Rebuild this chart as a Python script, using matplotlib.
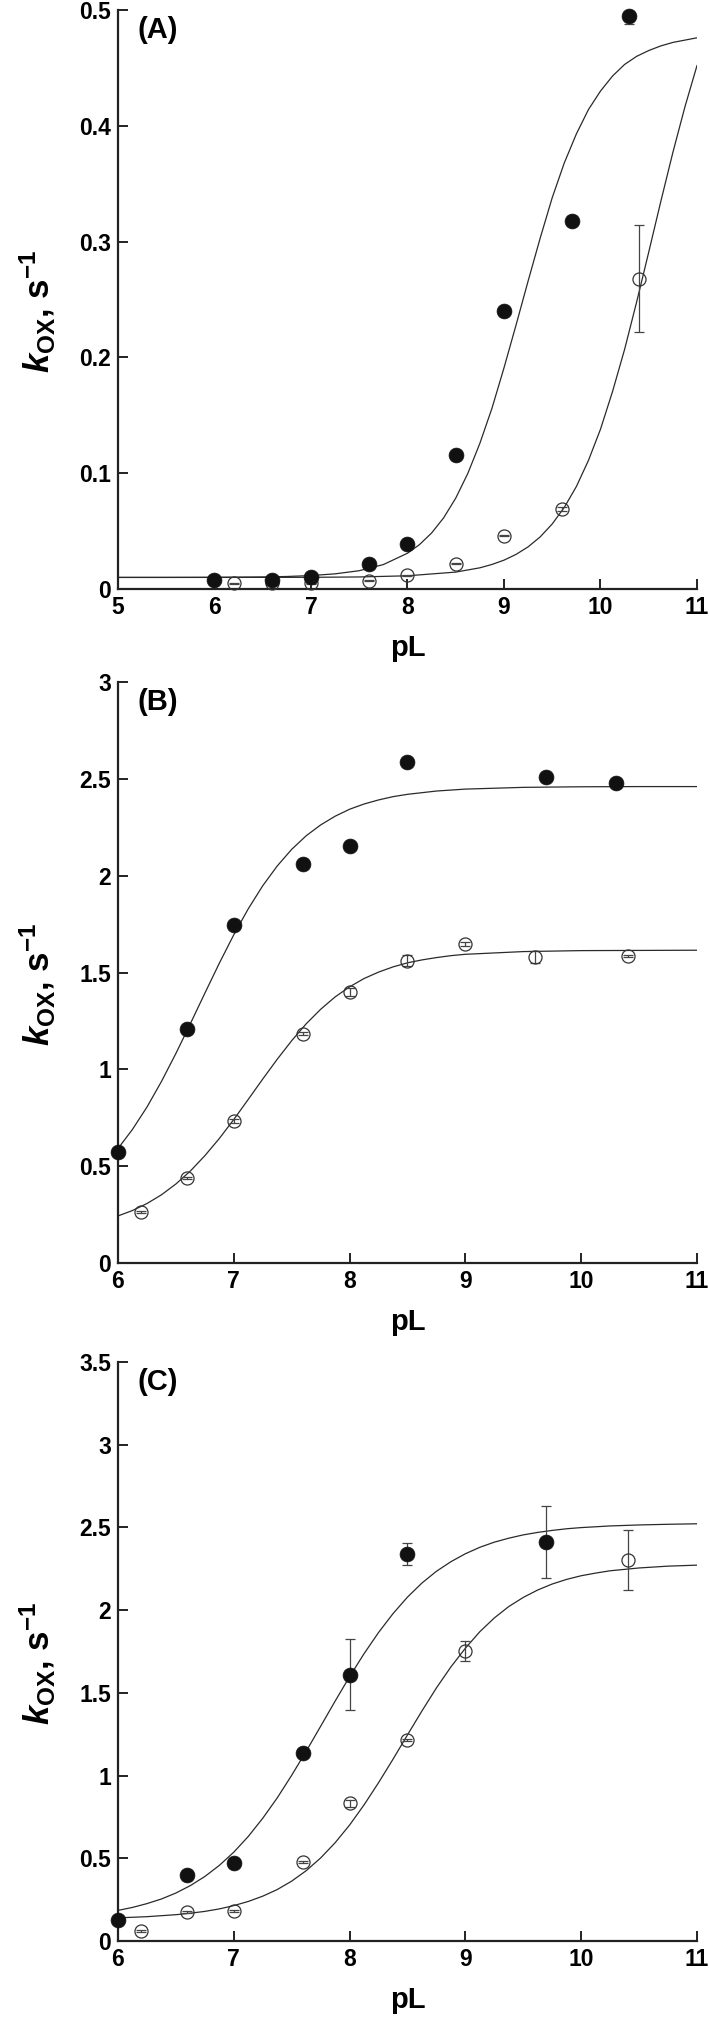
import matplotlib
matplotlib.use("Agg")
import matplotlib.pyplot as plt
from matplotlib import ticker

# ─── Données ────────────────────────────────────────────────
# (A)
A_fill_x = [6, 6.6, 7, 7.6, 8, 8.5, 9, 9.7, 10.3]
A_fill_y = [0.008, 0.008, 0.010, 0.022, 0.039, 0.116, 0.240, 0.318, 0.495]
A_fill_err_lo = [0.001, 0.001, 0.001, 0.001, 0.001, 0.001, 0.002, 0.004, 0.007]
A_fill_err_hi = [0.001, 0.001, 0.001, 0.001, 0.001, 0.001, 0.002, 0.004, 0.001]
A_open_x = [6.2, 6.6, 7, 7.6, 8, 8.5, 9, 9.6, 10.4]
A_open_y = [0.005, 0.005, 0.005, 0.007, 0.012, 0.022, 0.046, 0.069, 0.268]
A_open_err = [0.0005, 0.0005, 0.0005, 0.0005, 0.0005, 0.0005, 0.0005, 0.002, 0.046]

# courbes d'ajustement, relevées point par point
A_fitfill_x = [5, 5.5, 6, 6.5, 6.75, 7, 7.25, 7.5, 7.75, 8, 8.125, 8.25, 8.375,
               8.5, 8.625, 8.75, 8.875, 9, 9.125, 9.25, 9.375, 9.5, 9.625,
               9.75, 9.875, 10, 10.125, 10.25, 10.375, 10.5, 10.625, 10.75,
               10.875, 11]
A_fitfill_y = [0.0100, 0.0100, 0.0101, 0.0104, 0.0108, 0.0116, 0.0131, 0.0158,
               0.0211, 0.0309, 0.0384, 0.0484, 0.0615, 0.0785, 0.0998, 0.1258,
               0.156, 0.191, 0.228, 0.266, 0.303, 0.338, 0.368, 0.393, 0.414,
               0.430, 0.443, 0.453, 0.460, 0.465, 0.469, 0.472, 0.474, 0.476]
A_fitopen_x = [5, 6, 7, 7.5, 8, 8.5, 8.75, 8.875, 9, 9.125, 9.25, 9.375, 9.5,
               9.625, 9.75, 9.875, 10, 10.125, 10.25, 10.375, 10.5, 10.625,
               10.75, 10.875, 11]
A_fitopen_y = [0.0100, 0.0100, 0.0101, 0.0104, 0.0114, 0.0146, 0.0183, 0.0212,
               0.0249, 0.0299, 0.0364, 0.045, 0.0562, 0.0705, 0.0885, 0.111,
               0.138, 0.1706, 0.207, 0.248, 0.291, 0.3347, 0.377, 0.4164, 0.452]

# (B)
B_fill_x = [6, 6.6, 7, 7.6, 8, 8.5, 9.7, 10.3]
B_fill_y = [0.575, 1.21, 1.743, 2.06, 2.153, 2.586, 2.51, 2.478]
B_fill_err = [0.01, 0.01, 0.01, 0.01, 0.01, 0.01, 0.01, 0.01]
B_open_x = [6.2, 6.6, 7, 7.6, 8, 8.5, 9, 9.6, 10.4]
B_open_y = [0.265, 0.44, 0.735, 1.185, 1.40, 1.561, 1.647, 1.581, 1.585]
B_open_err = [0.005, 0.005, 0.01, 0.01, 0.02, 0.03, 0.012, 0.03, 0.005]

B_fitfill_x = [6, 6.125, 6.25, 6.375, 6.5, 6.625, 6.75, 6.875, 7, 7.125, 7.25,
               7.375, 7.5, 7.625, 7.75, 7.875, 8, 8.125, 8.25, 8.375, 8.5,
               8.75, 9, 9.5, 10, 10.5, 11]
B_fitfill_y = [0.591, 0.690, 0.805, 0.937, 1.082, 1.236, 1.393, 1.548, 1.695,
               1.829, 1.948, 2.050, 2.136, 2.206, 2.262, 2.307, 2.343, 2.370,
               2.391, 2.408, 2.420, 2.437, 2.447, 2.456, 2.459, 2.460, 2.460]
B_fitopen_x = [6, 6.125, 6.25, 6.375, 6.5, 6.625, 6.75, 6.875, 7, 7.125, 7.25,
               7.375, 7.5, 7.625, 7.75, 7.875, 8, 8.125, 8.25, 8.375, 8.5,
               8.625, 8.75, 8.875, 9, 9.5, 10, 10.5, 11]
B_fitopen_y = [0.243, 0.271, 0.307, 0.352, 0.408, 0.475, 0.554, 0.643, 0.741,
               0.845, 0.950, 1.052, 1.148, 1.235, 1.310, 1.374, 1.426, 1.469,
               1.502, 1.529, 1.550, 1.565, 1.577, 1.587, 1.594, 1.608, 1.613,
               1.614, 1.615]

# (C)
C_fill_x = [6, 6.6, 7, 7.6, 8, 8.5, 9.7]
C_fill_y = [0.127, 0.40, 0.474, 1.137, 1.61, 2.338, 2.412]
C_fill_err = [0.01, 0.01, 0.01, 0.01, 0.215, 0.068, 0.215]
C_open_x = [6.2, 6.6, 7, 7.6, 8, 8.5, 9, 10.4]
C_open_y = [0.061, 0.174, 0.183, 0.476, 0.832, 1.214, 1.754, 2.302]
C_open_err = [0.005, 0.005, 0.005, 0.005, 0.02, 0.005, 0.06, 0.183]

C_fitfill_x = [6, 6.125, 6.25, 6.375, 6.5, 6.625, 6.75, 6.875, 7, 7.125, 7.25,
               7.375, 7.5, 7.625, 7.75, 7.875, 8, 8.125, 8.25, 8.375, 8.5,
               8.625, 8.75, 8.875, 9, 9.125, 9.25, 9.375, 9.5, 9.625, 9.75,
               9.875, 10, 10.25, 10.5, 10.75, 11]
C_fitfill_y = [0.185, 0.203, 0.226, 0.254, 0.290, 0.335, 0.390, 0.457, 0.537,
               0.632, 0.742, 0.865, 1.002, 1.147, 1.298, 1.450, 1.598, 1.737,
               1.865, 1.979, 2.079, 2.164, 2.235, 2.293, 2.341, 2.380, 2.411,
               2.435, 2.455, 2.470, 2.482, 2.492, 2.499, 2.509, 2.515, 2.519,
               2.522]
C_fitopen_x = [6, 6.25, 6.5, 6.625, 6.75, 6.875, 7, 7.125, 7.25, 7.375, 7.5,
               7.625, 7.75, 7.875, 8, 8.125, 8.25, 8.375, 8.5, 8.625, 8.75,
               8.875, 9, 9.125, 9.25, 9.375, 9.5, 9.625, 9.75, 9.875, 10,
               10.125, 10.25, 10.5, 10.75, 11]
C_fitopen_y = [0.140, 0.147, 0.159, 0.168, 0.179, 0.194, 0.214, 0.239, 0.271,
               0.311, 0.362, 0.425, 0.502, 0.594, 0.701, 0.823, 0.957, 1.099,
               1.246, 1.391, 1.530, 1.657, 1.770, 1.870, 1.953, 2.022, 2.077,
               2.122, 2.158, 2.186, 2.208, 2.224, 2.238, 2.255, 2.266, 2.272]

# ─── Style ──────────────────────────────────────────────────
plt.rcParams["font.family"] = ["Liberation Sans", "DejaVu Sans"]
plt.rcParams["font.weight"] = "bold"
plt.rcParams["mathtext.fontset"] = "custom"
plt.rcParams["mathtext.rm"] = "Liberation Sans:bold"
plt.rcParams["mathtext.it"] = "Liberation Sans:italic:bold"
plt.rcParams["mathtext.bf"] = "Liberation Sans:bold"

W, H = 709, 2019
fig = plt.figure(figsize=(W / 100, H / 100), dpi=100)

# haut / bas de chaque panneau, en pixels
panels = [
    dict(top=10, bottom=589, xlim=(5, 11), ylim=(0, 0.5), yticks=[0, 0.1, 0.2, 0.3, 0.4, 0.5],
         label="(A)",
         fill=(A_fill_x, A_fill_y, [A_fill_err_lo, A_fill_err_hi]),
         open_=(A_open_x, A_open_y, A_open_err),
         fits=[(A_fitfill_x, A_fitfill_y), (A_fitopen_x, A_fitopen_y)]),
    dict(top=682, bottom=1263, xlim=(6, 11), ylim=(0, 3), yticks=[0, 0.5, 1, 1.5, 2, 2.5, 3],
         label="(B)",
         fill=(B_fill_x, B_fill_y, B_fill_err),
         open_=(B_open_x, B_open_y, B_open_err),
         fits=[(B_fitfill_x, B_fitfill_y), (B_fitopen_x, B_fitopen_y)]),
    dict(top=1362, bottom=1941, xlim=(6, 11), ylim=(0, 3.5), yticks=[0, 0.5, 1, 1.5, 2, 2.5, 3, 3.5],
         label="(C)",
         fill=(C_fill_x, C_fill_y, C_fill_err),
         open_=(C_open_x, C_open_y, C_open_err),
         fits=[(C_fitfill_x, C_fitfill_y), (C_fitopen_x, C_fitopen_y)]),
]

LEFT, RIGHT = 118, 697
LINE_C = "#2a2a2a"

for p in panels:
    ax = fig.add_axes([LEFT / W, (H - p["bottom"]) / H,
                       (RIGHT - LEFT) / W, (p["bottom"] - p["top"]) / H])

    for fx, fy in p["fits"]:
        ax.plot(fx, fy, color=LINE_C, lw=0.9, zorder=1)

    ox, oy, oerr = p["open_"]
    ax.errorbar(ox, oy, yerr=oerr, fmt="none", ecolor="#444444", elinewidth=0.9,
                capsize=3.3, capthick=0.9, zorder=2, clip_on=False)
    ax.plot(ox, oy, "o", ms=9.4, mfc="none", mec="#333333", mew=0.9,
            zorder=3, clip_on=False)

    sx, sy, serr = p["fill"]
    ax.errorbar(sx, sy, yerr=serr, fmt="none", ecolor="#444444", elinewidth=0.9,
                capsize=3.3, capthick=0.9, zorder=2, clip_on=False)
    ax.plot(sx, sy, "o", ms=10.7, mfc="#111111", mec="#111111", mew=0.5,
            zorder=4, clip_on=False)

    ax.set_xlim(*p["xlim"])
    ax.set_ylim(*p["ylim"])
    ax.set_xticks(range(p["xlim"][0], p["xlim"][1] + 1))
    ax.set_yticks(p["yticks"])
    ax.yaxis.set_major_formatter(ticker.FormatStrFormatter("%g"))

    for side in ("top", "right"):
        ax.spines[side].set_visible(False)
    for side in ("left", "bottom"):
        ax.spines[side].set_linewidth(1.6)
        ax.spines[side].set_color("#222222")

    ax.tick_params(direction="in", length=7, width=1.4, color="#222222",
                   labelsize=16.5, pad=5)
    for lab in ax.get_xticklabels() + ax.get_yticklabels():
        lab.set_fontweight("bold")

    ax.set_xlabel("pL", fontsize=21, fontweight="bold", labelpad=11)
    ax.set_ylabel(r"$k_{\mathrm{OX}}$, s$^{\mathrm{-1}}$", fontsize=25,
                  fontweight="bold")
    ax.yaxis.set_label_coords(-0.105, 0.48)

    ax.text(0.033, 0.99, p["label"], transform=ax.transAxes, fontsize=21,
            fontweight="bold", va="top", ha="left")

fig.savefig("out.png", dpi=100)
